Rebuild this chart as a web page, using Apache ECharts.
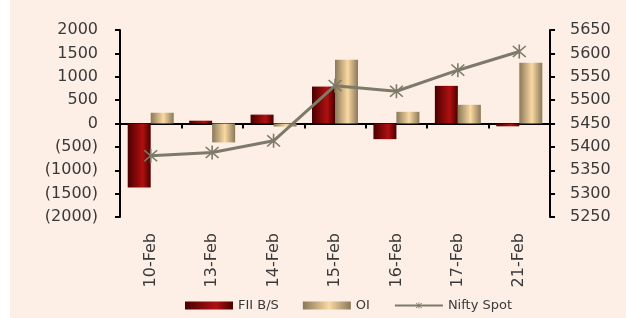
<!DOCTYPE html>
<html>
<head>
<meta charset="utf-8">
<script src="https://cdn.jsdelivr.net/npm/echarts@6/dist/echarts.min.js"></script>
<style>
  html, body { margin: 0; padding: 0; background: #ffffff; }
  #chart-container { position: absolute; left: 10px; top: 0; width: 616px; height: 318px; background: #fdefe6; }
</style>
</head>
<body>
<div id="chart-container"></div>
<script>
var dates = ["10-Feb", "13-Feb", "14-Feb", "15-Feb", "16-Feb", "17-Feb", "21-Feb"];
var fiiValues = [-1370, 60, 190, 790, -335, 805, -60];
var oiValues = [230, -405, -65, 1365, 250, 400, 1300];
var niftyValues = [5381, 5388, 5413, 5531, 5519, 5564, 5604];

// asterisk marker like the Excel "star" marker
var starPath = "path://M9 0L11 0L11 20L9 20Z" +
  "M1.3 2.7L2.7 1.3L18.7 17.3L17.3 18.7Z" +
  "M17.3 1.3L18.7 2.7L2.7 18.7L1.3 17.3Z";

var labelFont = {
  fontFamily: "DejaVu Sans",
  fontSize: 16,
  color: "#3a3a3a",
};

var dom = document.getElementById("chart-container");
var myChart = echarts.init(dom, null, { renderer: "canvas" });

function grad(edge, mid, pos) {
  return new echarts.graphic.LinearGradient(0, 0, 1, 0, [
    { offset: 0, color: edge },
    { offset: pos, color: mid },
    { offset: 1, color: edge },
  ]);
}

var option = {
  animation: false,
  backgroundColor: "transparent",
  grid: { left: 110, right: 76, top: 30, bottom: 101, outerBoundsMode: "none", containLabel: false },
  legend: {
    left: 170,
    top: 294,
    itemWidth: 48,
    itemHeight: 8,
    itemGap: 24,
    textStyle: { fontFamily: "DejaVu Sans", fontSize: 13, color: "#3a3a3a" },
    data: [
      { name: "FII B/S", icon: "rect" },
      { name: "OI", icon: "rect" },
      { name: "Nifty Spot" },
    ],
  },
  xAxis: [
    {
      // axis line and ticks sitting on zero
      type: "category",
      data: dates,
      axisLine: { onZero: true, onZeroAxisIndex: 0, lineStyle: { color: "#000", width: 2 } },
      axisTick: { show: true, length: 5, lineStyle: { color: "#000", width: 2 } },
      axisLabel: { show: false },
    },
    {
      // date labels under the plot
      type: "category",
      data: dates,
      position: "bottom",
      axisLine: { show: false, onZero: false },
      axisTick: { show: false },
      axisLabel: Object.assign({ rotate: 90, interval: 0, margin: 16 }, labelFont),
    },
  ],
  yAxis: [
    {
      type: "value",
      min: -2000,
      max: 2000,
      interval: 500,
      splitLine: { show: false },
      axisLine: { show: true, lineStyle: { color: "#000", width: 2 } },
      axisTick: { show: true, length: 5, lineStyle: { color: "#000", width: 2 } },
      axisLabel: Object.assign({
        margin: 22,
        showMinLabel: true,
        showMaxLabel: true,
        formatter: function (v) { return v < 0 ? "(" + Math.abs(v) + ")" : String(v); },
      }, labelFont),
    },
    {
      type: "value",
      min: 5250,
      max: 5650,
      interval: 50,
      splitLine: { show: false },
      axisLine: { show: true, lineStyle: { color: "#000", width: 2 } },
      axisTick: { show: true, length: 5, lineStyle: { color: "#000", width: 2 } },
      axisLabel: Object.assign({
        margin: 20,
        showMinLabel: true,
        showMaxLabel: true,
        formatter: function (v) { return String(v); },
      }, labelFont),
    },
  ],
  series: [
    {
      name: "FII B/S",
      type: "bar",
      data: fiiValues,
      barWidth: 23,
      barGap: "0%",
      itemStyle: { color: grad("#4a0000", "#b01010", 0.65) },
    },
    {
      name: "OI",
      type: "bar",
      data: oiValues,
      barWidth: 23,
      barGap: "0%",
      itemStyle: { color: grad("#8a7858", "#fad9a2", 0.55) },
    },
    {
      name: "Nifty Spot",
      type: "line",
      yAxisIndex: 1,
      data: niftyValues,
      symbol: starPath,
      symbolSize: 14,
      lineStyle: { color: "#7d7a69", width: 3 },
      itemStyle: { color: "#7d7a69" },
      z: 5,
    },
  ],
};

myChart.setOption(option);
window.addEventListener("resize", myChart.resize);
</script>
</body>
</html>
